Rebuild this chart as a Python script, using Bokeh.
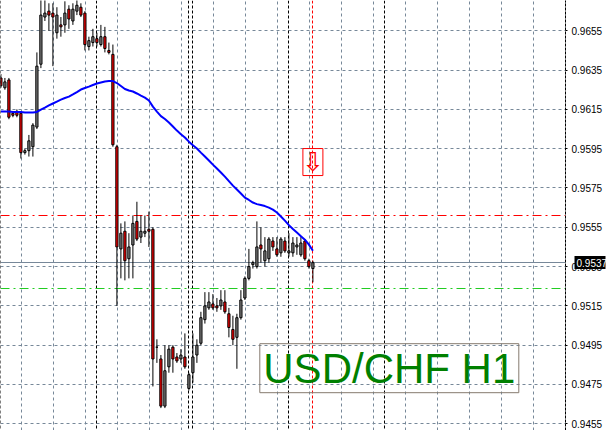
from bokeh.plotting import figure
from bokeh.models import (ColumnDataSource, Range1d, FixedTicker, Label, LinearAxis,
                          PrintfTickFormatter)
from bokeh.embed import file_html
from bokeh.resources import INLINE

# ---------------- data ----------------
opens = [0.9631, 0.9626, 0.9630, 0.9613, 0.9614, 0.9613, 0.9593, 0.9594, 0.9596, 0.9606,
         0.9638, 0.9662, 0.9665, 0.9664, 0.9654, 0.9658, 0.9658, 0.9666, 0.9660, 0.9665,
         0.9667, 0.9664, 0.9647, 0.9649, 0.9651, 0.9648, 0.9652, 0.9645, 0.9643, 0.9596,
         0.9544, 0.9553, 0.9539, 0.9546, 0.9558, 0.9550, 0.9552, 0.9554, 0.9554, 0.9494,
         0.9488, 0.9464, 0.9484, 0.9494, 0.9489, 0.9488, 0.9489, 0.9473, 0.9481, 0.9490,
         0.9496, 0.9508, 0.9514, 0.9516, 0.9515, 0.9515, 0.9517, 0.9511, 0.9503, 0.9499,
         0.9509, 0.9519, 0.9529, 0.9536, 0.9535, 0.9546, 0.9538, 0.9539, 0.9548, 0.9544,
         0.9542, 0.9548, 0.9542, 0.9542, 0.9545, 0.9541, 0.9548, 0.9538, 0.9534]
highs = [0.9633, 0.9631, 0.9631, 0.9614, 0.9615, 0.9614, 0.9595, 0.9602, 0.9608, 0.9644,
         0.9673, 0.9671, 0.9669, 0.9669, 0.9667, 0.9662, 0.9670, 0.9668, 0.9669, 0.9671,
         0.9669, 0.9665, 0.9652, 0.9656, 0.9654, 0.9658, 0.9657, 0.9649, 0.9648, 0.9597,
         0.9557, 0.9558, 0.9552, 0.9561, 0.9568, 0.9561, 0.9561, 0.9563, 0.9555, 0.9498,
         0.9490, 0.9495, 0.9495, 0.9495, 0.9491, 0.9493, 0.9501, 0.9481, 0.9501, 0.9498,
         0.9512, 0.9522, 0.9522, 0.9521, 0.9519, 0.9523, 0.9523, 0.9514, 0.9510, 0.9511,
         0.9523, 0.9530, 0.9544, 0.9538, 0.9558, 0.9555, 0.9550, 0.9550, 0.9550, 0.9550,
         0.9550, 0.9550, 0.9552, 0.9550, 0.9550, 0.9550, 0.9549, 0.9539, 0.9538]
lows = [0.9626, 0.9625, 0.9610, 0.9611, 0.9611, 0.9590, 0.9592, 0.9591, 0.9591, 0.9605,
        0.9636, 0.9660, 0.9655, 0.9637, 0.9651, 0.9652, 0.9654, 0.9656, 0.9658, 0.9663,
        0.9662, 0.9645, 0.9645, 0.9647, 0.9647, 0.9647, 0.9644, 0.9643, 0.9596, 0.9515,
        0.9529, 0.9528, 0.9529, 0.9529, 0.9548, 0.9547, 0.9550, 0.9545, 0.9474, 0.9486,
        0.9463, 0.9463, 0.9481, 0.9481, 0.9486, 0.9486, 0.9483, 0.9472, 0.9476, 0.9486,
        0.9495, 0.9506, 0.9513, 0.9513, 0.9512, 0.9513, 0.9511, 0.9499, 0.9495, 0.9483,
        0.9508, 0.9518, 0.9528, 0.9534, 0.9534, 0.9537, 0.9535, 0.9537, 0.9543, 0.9540,
        0.9540, 0.9542, 0.9540, 0.9540, 0.9541, 0.9540, 0.9538, 0.9534, 0.9527]
closes = [0.9627, 0.9629, 0.9611, 0.9612, 0.9612, 0.9593, 0.9594, 0.9599, 0.9607, 0.9637,
          0.9663, 0.9664, 0.9663, 0.9662, 0.9663, 0.9657, 0.9664, 0.9661, 0.9666, 0.9668,
          0.9663, 0.9648, 0.9650, 0.9652, 0.9649, 0.9652, 0.9646, 0.9644, 0.9597, 0.9545,
          0.9552, 0.9538, 0.9545, 0.9557, 0.9549, 0.9553, 0.9553, 0.9553, 0.9488, 0.9494,
          0.9464, 0.9482, 0.9493, 0.9488, 0.9487, 0.9490, 0.9484, 0.9480, 0.9489, 0.9495,
          0.9509, 0.9515, 0.9517, 0.9514, 0.9514, 0.9518, 0.9512, 0.9504, 0.9498, 0.9509,
          0.9518, 0.9529, 0.9535, 0.9537, 0.9545, 0.9544, 0.9543, 0.9549, 0.9545, 0.9541,
          0.9549, 0.9543, 0.9543, 0.9547, 0.9546, 0.9547, 0.9539, 0.9535, 0.9537]
ma = [0.96139, 0.96139, 0.96139, 0.96137, 0.96137, 0.96137, 0.96134, 0.96134, 0.96134, 0.96137,
      0.96149, 0.96159, 0.96170, 0.96180, 0.96190, 0.96200, 0.96208, 0.96215, 0.96226, 0.96238,
      0.96251, 0.96259, 0.96266, 0.96274, 0.96282, 0.96287, 0.96292, 0.96294, 0.96294, 0.96284,
      0.96269, 0.96254, 0.96246, 0.96241, 0.96231, 0.96220, 0.96210, 0.96195, 0.96164, 0.96139,
      0.96116, 0.96101, 0.96083, 0.96063, 0.96042, 0.96024, 0.96007, 0.95986, 0.95968, 0.95951,
      0.95930, 0.95910, 0.95890, 0.95869, 0.95849, 0.95829, 0.95808, 0.95785, 0.95762, 0.95742,
      0.95722, 0.95701, 0.95689, 0.95676, 0.95668, 0.95663, 0.95658, 0.95650, 0.95640, 0.95625,
      0.95605, 0.95584, 0.95561, 0.95541, 0.95523, 0.95505, 0.95487, 0.95462, 0.95431]
price_ticks = [0.9455, 0.9475, 0.9495, 0.9515, 0.9535, 0.9555, 0.9575, 0.9595, 0.9615, 0.9635, 0.9655]
last_price = 0.9537
resistance_level = 0.9561
support_level = 0.9524
day_breaks = [0, 24, 47, 48, 72, 96]
signal_bar = 78
signal_price = 0.95882
title_text = "USD/CHF H1"
title_bar = 97.1
title_price = 0.94833

# ---------------- figure ----------------
idx = list(range(len(opens)))
up = [c >= o for o, c in zip(opens, closes)]
src = ColumnDataSource(dict(
    x=idx,
    top=[max(o, c) for o, c in zip(opens, closes)],
    bottom=[min(o, c) for o, c in zip(opens, closes)],
    high=highs, low=lows,
    color=["#808080" if u else "#ff0000" for u in up],
))

p = figure(width=610, height=430, output_backend="svg", toolbar_location=None,
           x_range=Range1d(-0.1, 141.15), y_range=Range1d(0.945159, 0.967042),
           x_axis_location=None, y_axis_location="right",
           min_border_left=0, min_border_top=0, min_border_bottom=0, min_border_right=45)
p.outline_line_color = None
p.background_fill_color = "white"

grid_col = "#778899"
p.xgrid.ticker = FixedTicker(ticks=[5.125 + 8 * m for m in range(18)])
for g in (p.xgrid, p.ygrid):
    g.grid_line_color = grid_col
    g.grid_line_dash = "3 3"
    g.grid_line_width = 1

label_font = "Liberation Sans"
ax = p.yaxis[0]
ax.ticker = FixedTicker(ticks=price_ticks)
ax.formatter = PrintfTickFormatter(format="%.4f")
ax.axis_line_color = "black"
ax.axis_line_dash = "3 1"
ax.major_tick_out = 2
ax.major_tick_in = 0
ax.minor_tick_out = 0
ax.minor_tick_in = 0
ax.major_tick_line_color = "black"
ax.major_label_standoff = 4
ax.major_label_text_font = label_font
ax.major_label_text_font_size = "10px"
ax.major_label_text_color = "black"

# current-price marker on the scale: a second axis whose single thick tick is the black box
price_axis = LinearAxis(ticker=FixedTicker(ticks=[last_price]),
                        formatter=PrintfTickFormatter(format="%.4f"),
                        axis_line_color=None,
                        major_tick_in=31, major_tick_out=0,
                        major_tick_line_width=13, major_tick_line_color="black",
                        minor_tick_in=0, minor_tick_out=0,
                        major_label_standoff=-29,
                        major_label_text_color="white",
                        major_label_text_font=label_font,
                        major_label_text_font_size="10px")
p.add_layout(price_axis, "right")

# separators and level lines
p.vspan(x=day_breaks, line_color="black", line_dash="3 2", line_width=1)
p.vspan(x=[signal_bar], line_color="#ff0000", line_dash="3 2", line_width=1)
p.hspan(y=[resistance_level], line_color="#ff0000", line_dash="9 4 2 4", line_width=1)
p.hspan(y=[support_level], line_color="#22cc22", line_dash="9 4 2 4", line_width=1)
p.hspan(y=[last_price], line_color=grid_col, line_width=1)

# candles
p.segment(x0="x", y0="low", x1="x", y1="high", source=src, line_color="black", line_width=1)
p.vbar(x="x", width=0.55, top="top", bottom="bottom", source=src,
       fill_color="color", line_color="black", line_width=1)

# moving average
p.line(idx, ma, line_color="#0000ff", line_width=2)

# signal arrow in its box
p.rect(x=[signal_bar], y=[signal_price], width=20, height=27, width_units="screen",
       height_units="screen", fill_color=None, line_color="#ff0000", line_width=1)
p.add_layout(Label(x=signal_bar, y=signal_price, text="\u21e9", text_color="#ff0000",
                   text_font="DejaVu Sans", text_font_size="26px",
                   text_align="center", text_baseline="middle"))

# title in its box
p.rect(x=[title_bar], y=[title_price], width=259, height=49, width_units="screen",
       height_units="screen", fill_color=None, line_color="#857a6e", line_width=1)
p.add_layout(Label(x=title_bar, y=title_price, text=title_text, text_color="#008000",
                   text_font="Liberation Sans", text_font_size="42px",
                   text_align="center", text_baseline="middle"))

open("out.html", "w").write(file_html(p, INLINE))
